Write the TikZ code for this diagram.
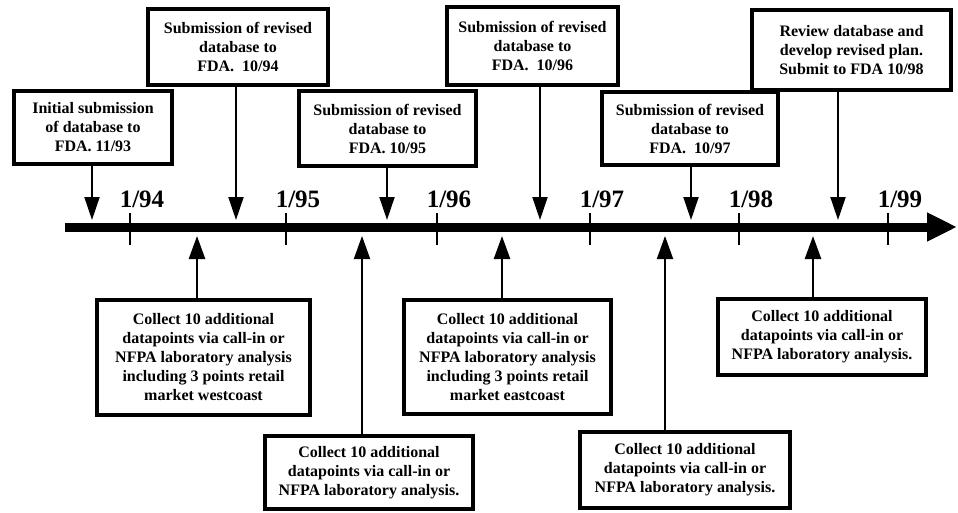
\documentclass[tikz,border=0pt]{standalone}
\usepackage{fontspec}
\setmainfont{Liberation Serif}
\usetikzlibrary{arrows.meta}
\begin{document}
\begin{tikzpicture}[x=1pt,y=-1pt,
  box/.style={draw=black, line width=4pt, fill=white, align=center, inner sep=0pt,
    font=\fontsize{16}{19}\selectfont\bfseries},
  dn/.style={line width=2pt, -{Triangle[length=23pt,width=15pt]}},
  up/.style={line width=2.5pt, -{Triangle[length=23pt,width=16pt]}},
  yr/.style={font=\fontsize{25}{30}\selectfont\bfseries, inner sep=0pt},
  tickline/.style={line width=2pt}]
\useasboundingbox (0,0) rectangle (958,512);

% timeline
\coordinate (tl0) at (65,227);
\coordinate (tl1) at (957,227);
\draw[line width=9pt, -{Triangle[length=30pt,width=27pt]}] (tl0) -- (tl1);

% ticks and year labels
\foreach \x/\l in {130/94,286/95,437/96,590/97,739/98,888/99}{
  \draw[tickline] (\x,213) -- (\x,245);
  \node[yr] (y\l) at (\x+12,199) {1/\l};
}

% top boxes
\node[box, minimum width=158pt, minimum height=73pt] (t1) at (93,127.5) {Initial submission\\of database to\\FDA. 11/93};
\node[box, minimum width=180pt, minimum height=76pt] (t2) at (238,47) {Submission of revised\\database to\\FDA.~~10/94};
\node[box, minimum width=177pt, minimum height=75pt] (t3) at (387.5,128.5) {Submission of revised\\database to\\FDA. 10/95};
\node[box, minimum width=171pt, minimum height=78pt] (t4) at (532.5,46) {Submission of revised\\database to\\FDA.~~10/96};
\node[box, minimum width=176pt, minimum height=73pt] (t5) at (690,128.5) {Submission of revised\\database to\\FDA.~~10/97};
\node[box, minimum width=199pt, minimum height=80pt] (t6) at (851.5,50) {Review database and\\develop revised plan.\\ Submit to FDA 10/98};

% bottom boxes
\node[box, minimum width=213pt, minimum height=115pt] (b1) at (203.5,357.5) {Collect 10 additional\\datapoints via call-in or\\NFPA laboratory analysis\\including 3 points retail\\market westcoast};
\node[box, minimum width=208pt, minimum height=73pt] (b2) at (369,472.5) {Collect 10 additional\\datapoints via call-in or\\NFPA laboratory analysis.};
\node[box, minimum width=207pt, minimum height=114pt] (b3) at (507.5,357) {Collect 10 additional\\datapoints via call-in or\\NFPA laboratory analysis\\including 3 points retail\\market eastcoast};
\node[box, minimum width=210pt, minimum height=76pt] (b4) at (685,470) {Collect 10 additional\\datapoints via call-in or\\NFPA laboratory analysis.};
\node[box, minimum width=208pt, minimum height=76pt] (b5) at (822,337) {Collect 10 additional\\datapoints via call-in or\\NFPA laboratory analysis.};

% down arrows
\coordinate (d1) at (92,220);
\coordinate (d2) at (236,220);
\coordinate (d3) at (387,220);
\coordinate (d4) at (540,220);
\coordinate (d5) at (691,220);
\coordinate (d6) at (838,220);
\foreach \i in {1,...,6}{
  \draw[dn] (t\i.south -| d\i) -- (d\i);
}

% up arrows
\coordinate (u1) at (197,236);
\coordinate (u2) at (362,236);
\coordinate (u3) at (502,236);
\coordinate (u4) at (665,236);
\coordinate (u5) at (813,236);
\draw[up] (b1.north -| u1) -- (u1);
\draw[up, line width=2pt] (b2.north -| u2) -- (u2);
\draw[up] (b3.north -| u3) -- (u3);
\draw[up, line width=2pt] (b4.north -| u4) -- (u4);
\draw[up] (b5.north -| u5) -- (u5);
\end{tikzpicture}
\end{document}
